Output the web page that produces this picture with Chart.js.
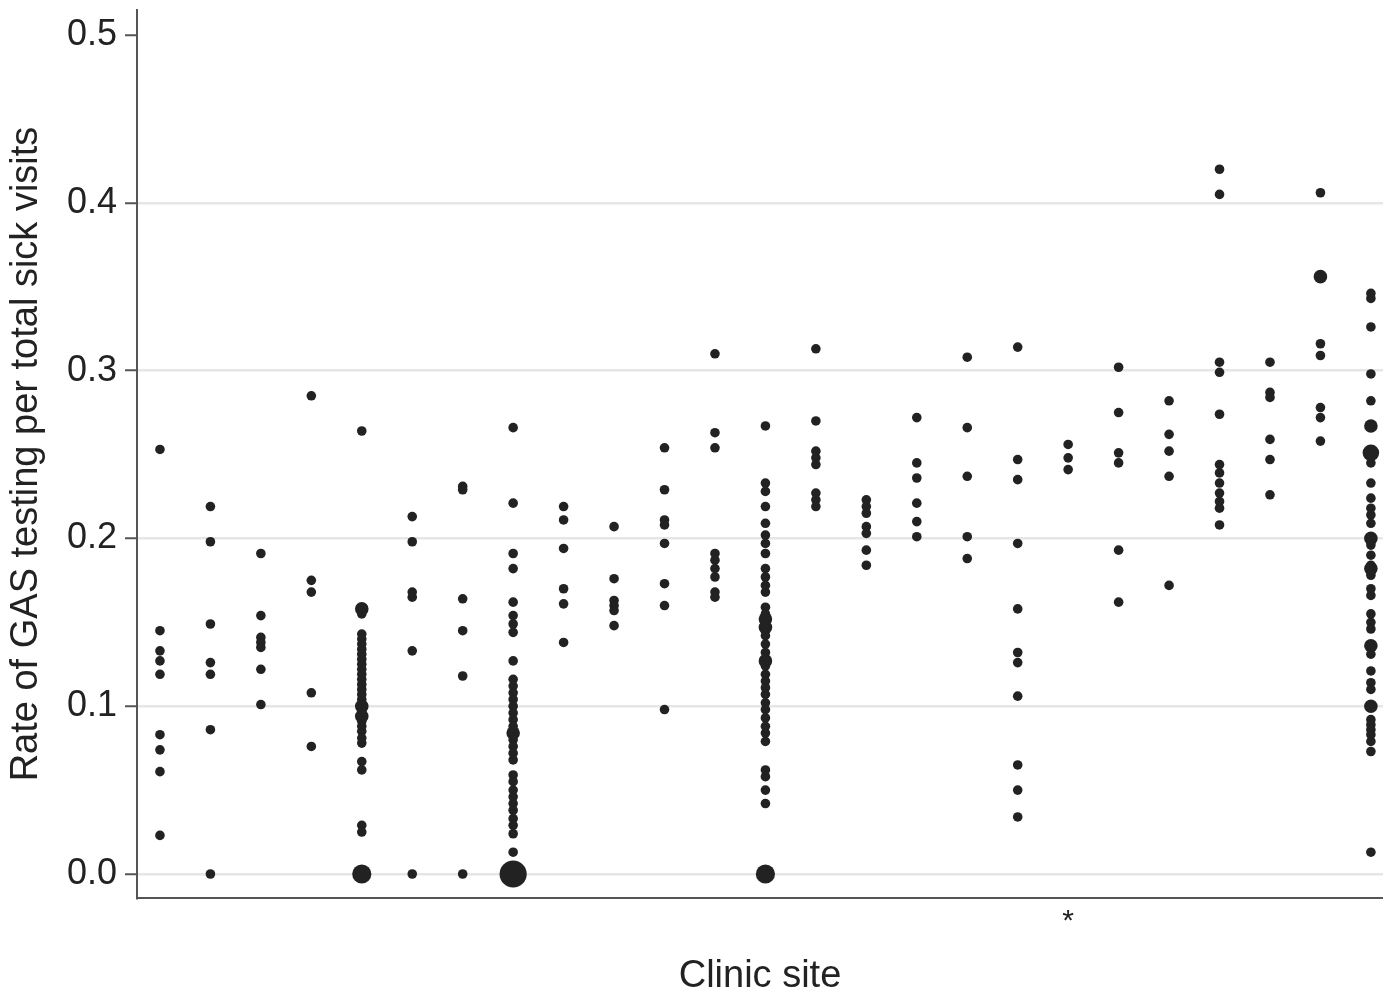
<!DOCTYPE html>
<html>
<head>
<meta charset="utf-8">
<script src="https://cdn.jsdelivr.net/npm/chart.js@4.4.1/dist/chart.umd.min.js"></script>
<style>
  html, body { margin: 0; padding: 0; background: #ffffff; }
  #wrap { width: 1383px; height: 1000px; }
</style>
</head>
<body>
<div id="wrap"><canvas id="c" width="1383" height="1000"></canvas></div>
<script>
// ---- Data ----
const siteIds = [1,2,3,4,5,6,7,8,9,10,11,12,13,14,15,16,17,18,19,20,21,22,23,24,25];
const starredSite = 19;
const yTickValues = [0.0, 0.1, 0.2, 0.3, 0.4, 0.5];
const yTitle = 'Rate of GAS testing per total sick visits';
const xTitle = 'Clinic site';

const site01 = [0.253, 0.145, 0.133, 0.127, 0.119, 0.083, 0.074, 0.061, 0.023];
const site02 = [0.219, 0.198, 0.149, 0.126, 0.119, 0.086, 0];
const site03 = [0.191, 0.154, 0.141, 0.138, 0.135, 0.122, 0.101];
const site04 = [0.285, 0.175, 0.168, 0.108, 0.076];
const site05 = [0.264, 0.158, 0.158, 0.155, 0.143, 0.140, 0.137, 0.134, 0.131, 0.128, 0.125, 0.122, 0.119, 0.116, 0.113, 0.110, 0.107, 0.104, 0.100, 0.100, 0.097, 0.094, 0.094, 0.091, 0.088, 0.085, 0.081, 0.078, 0.067, 0.062, 0.029, 0.025, 0, 0, 0, 0];
const site06 = [0.213, 0.198, 0.168, 0.165, 0.133, 0];
const site07 = [0.231, 0.229, 0.164, 0.145, 0.118, 0];
const site08 = [0.266, 0.221, 0.191, 0.182, 0.162, 0.154, 0.149, 0.144, 0.127, 0.116, 0.112, 0.108, 0.104, 0.100, 0.096, 0.092, 0.088, 0.084, 0.084, 0.080, 0.076, 0.072, 0.068, 0.059, 0.055, 0.050, 0.046, 0.042, 0.038, 0.033, 0.029, 0.024, 0.013, 0, 0, 0, 0, 0, 0, 0, 0];
const site09 = [0.219, 0.211, 0.194, 0.170, 0.161, 0.138];
const site10 = [0.207, 0.176, 0.163, 0.160, 0.157, 0.148];
const site11 = [0.254, 0.229, 0.211, 0.208, 0.197, 0.173, 0.160, 0.098];
const site12 = [0.310, 0.263, 0.254, 0.191, 0.187, 0.182, 0.177, 0.168, 0.165];
const site13 = [0.267, 0.233, 0.228, 0.219, 0.209, 0.202, 0.197, 0.191, 0.182, 0.177, 0.172, 0.168, 0.159, 0.155, 0.152, 0.152, 0.149, 0.147, 0.147, 0.142, 0.137, 0.132, 0.127, 0.127, 0.124, 0.119, 0.115, 0.111, 0.107, 0.102, 0.098, 0.093, 0.088, 0.084, 0.079, 0.062, 0.058, 0.050, 0.042, 0, 0, 0, 0];
const site14 = [0.313, 0.270, 0.252, 0.248, 0.244, 0.227, 0.223, 0.219];
const site15 = [0.223, 0.219, 0.215, 0.207, 0.203, 0.193, 0.184];
const site16 = [0.272, 0.245, 0.236, 0.221, 0.210, 0.201];
const site17 = [0.308, 0.266, 0.237, 0.201, 0.188];
const site18 = [0.314, 0.247, 0.235, 0.197, 0.158, 0.132, 0.126, 0.106, 0.065, 0.050, 0.034];
const site19 = [0.256, 0.248, 0.241];
const site20 = [0.302, 0.275, 0.251, 0.245, 0.193, 0.162];
const site21 = [0.282, 0.262, 0.252, 0.237, 0.172];
const site22 = [0.420, 0.405, 0.305, 0.299, 0.274, 0.244, 0.239, 0.233, 0.227, 0.222, 0.218, 0.208];
const site23 = [0.305, 0.287, 0.284, 0.259, 0.247, 0.226];
const site24 = [0.406, 0.356, 0.356, 0.316, 0.309, 0.278, 0.272, 0.258];
const site25 = [0.346, 0.343, 0.326, 0.298, 0.282, 0.267, 0.267, 0.251, 0.251, 0.251, 0.245, 0.233, 0.224, 0.218, 0.214, 0.209, 0.200, 0.200, 0.196, 0.190, 0.184, 0.182, 0.182, 0.178, 0.170, 0.166, 0.155, 0.150, 0.146, 0.136, 0.136, 0.131, 0.121, 0.114, 0.110, 0.100, 0.100, 0.092, 0.089, 0.086, 0.083, 0.079, 0.073, 0.013];

const siteRates = [site01, site02, site03, site04, site05, site06, site07, site08, site09, site10,
  site11, site12, site13, site14, site15, site16, site17, site18, site19, site20,
  site21, site22, site23, site24, site25];

// ---- Build points: identical values at one site become one larger marker ----
const points = [];
siteIds.forEach((id, i) => {
  const counts = new Map();
  siteRates[i].forEach(v => counts.set(v, (counts.get(v) || 0) + 1));
  counts.forEach((n, v) => points.push({ x: id, y: v, n: n }));
});

const FONT = '"Liberation Sans", Arial, Helvetica, sans-serif';
const ink = '#222222';

new Chart(document.getElementById('c'), {
  type: 'scatter',
  data: {
    datasets: [{
      data: points,
      backgroundColor: ink,
      borderColor: ink,
      borderWidth: 0,
      clip: false,
      pointRadius: ctx => 4.8 * Math.sqrt((ctx.raw && ctx.raw.n) || 1),
      pointHoverRadius: ctx => 4.8 * Math.sqrt((ctx.raw && ctx.raw.n) || 1)
    }]
  },
  options: {
    responsive: false,
    animation: false,
    layout: { autoPadding: false, padding: { top: 10, left: 0, right: 0, bottom: 0 } },
    plugins: { legend: { display: false }, tooltip: { enabled: false } },
    scales: {
      x: {
        type: 'linear',
        min: 0.545,
        max: 25.24,
        afterBuildTicks: s => { s.ticks = siteIds.map(v => ({ value: v })); },
        afterFit: s => { s.height = 102; s.paddingLeft = 0; s.paddingRight = 0; },
        ticks: {
          autoSkip: false,
          maxRotation: 0,
          padding: 6,
          color: ink,
          font: { family: FONT, size: 30 },
          callback: v => (v === starredSite ? '*' : '')
        },
        grid: { display: true, drawOnChartArea: false, drawTicks: false, tickLength: 0 },
        border: { display: true, color: '#555555', width: 2 },
        title: {
          display: true, text: xTitle, color: ink,
          font: { family: FONT, size: 38, lineHeight: 1 },
          padding: { top: 0, bottom: 4 }
        }
      },
      y: {
        min: -0.0143,
        max: 0.5149,
        afterBuildTicks: s => { s.ticks = yTickValues.map(v => ({ value: v })); },
        afterFit: s => { s.width = 137; s.paddingTop = 0; s.paddingBottom = 0; },
        ticks: {
          color: ink,
          padding: 8,
          font: { family: FONT, size: 36 },
          callback: v => Number(v).toFixed(1)
        },
        grid: {
          color: ctx => (ctx.tick && ctx.tick.value >= 0.5 ? 'rgba(0,0,0,0)' : '#e6e6e6'),
          lineWidth: 2.5,
          tickColor: '#555555',
          tickWidth: 2,
          tickLength: 12
        },
        border: { display: true, color: '#555555', width: 2 },
        title: {
          display: true, text: yTitle, color: ink,
          font: { family: FONT, size: 38, lineHeight: 1 },
          padding: { top: 8, bottom: 0 }
        }
      }
    }
  }
});
</script>
</body>
</html>
